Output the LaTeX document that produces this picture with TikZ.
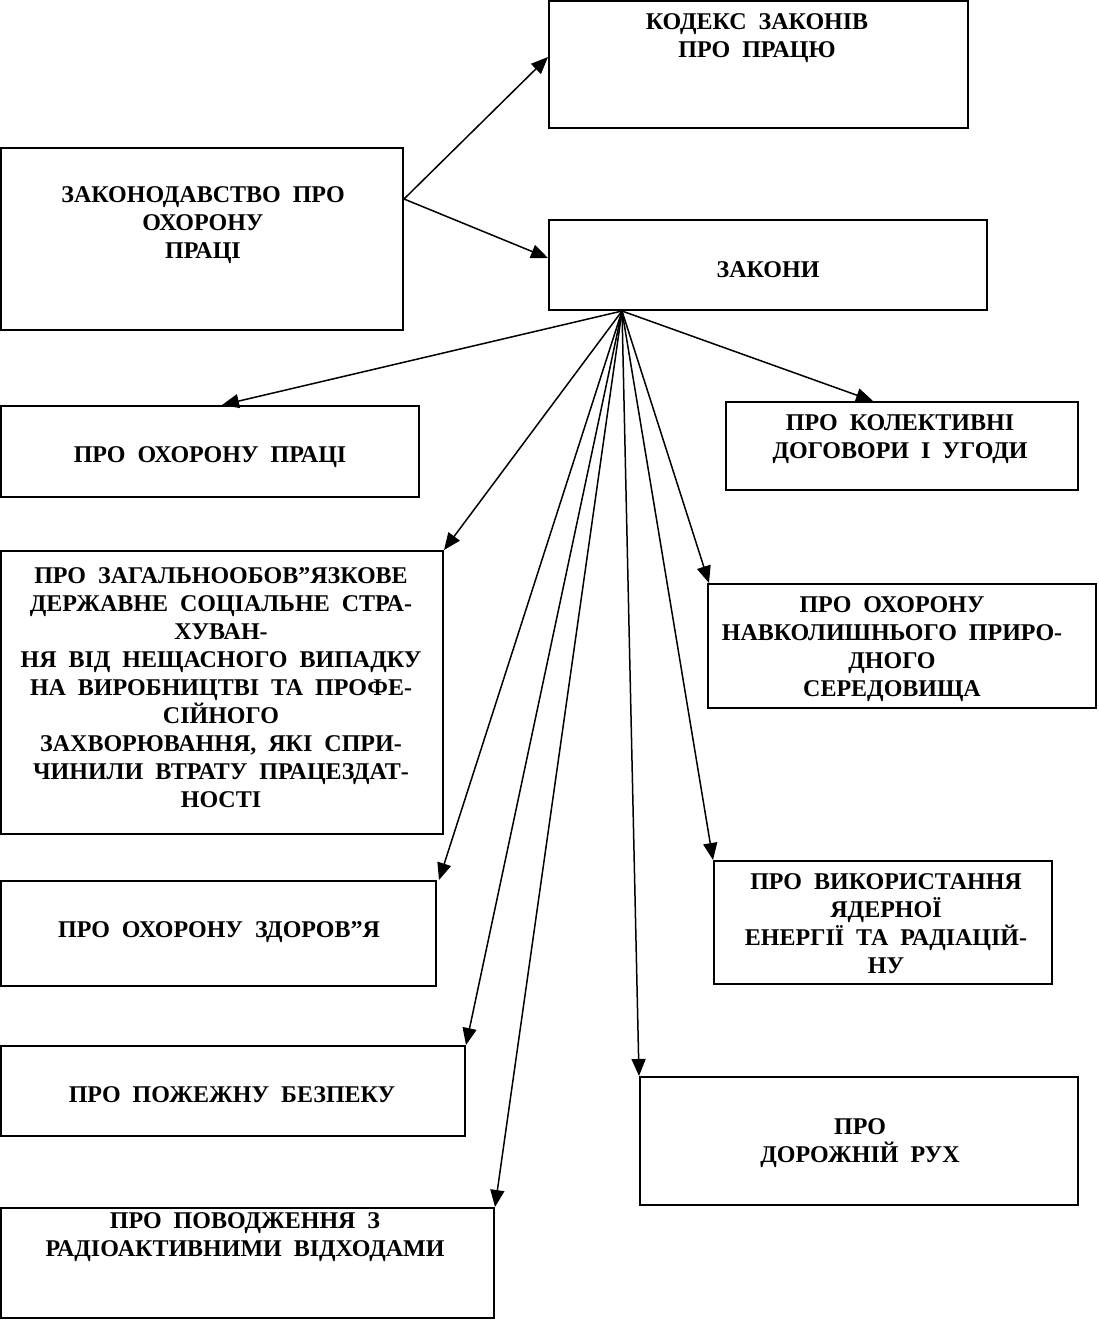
\documentclass[tikz,border=0pt]{standalone}
\usepackage{fontspec}
\setmainfont{Liberation Serif}
\usetikzlibrary{arrows.meta, fit, positioning}
\newcommand{\lawfont}{\bfseries\fontsize{24}{28}\selectfont\setlength{\spaceskip}{0.5em plus 0.1em}}
\tikzset{
    box/.style = {
      draw, line width=2pt, inner sep=0,
    },
    law text/.style = {
      align=center, inner sep=0, font=\lawfont,
    },
    link/.style = {line width=1.5pt, arrows={-Triangle[length=17pt, width=14pt]}},
}
\newcommand{\lawbox}[4]{%
  %% Draw one box of the scheme:
  %% Arguments:
  %%    1. Name
  %%    2. Its two corners
  %%    3. Where its text sits
  %%    4. The text
  \node [box, fit={#2}] (#1) {};
  \node [law text] (#1_text) at (#3) {#4};
}

\begin{document}
\begin{tikzpicture}[x=1pt, y=-1pt]
    \useasboundingbox (0,0) rectangle (1098,1320);

    %% The source and the two groups of acts
    \lawbox{legislation}{(1,148) (403,330)}{203,225}{ЗАКОНОДАВСТВО ПРО\\ОХОРОНУ\\ПРАЦІ}
    \lawbox{code}{(549,1) (968,128)}{757,38}{КОДЕКС ЗАКОНІВ\\ПРО ПРАЦЮ}
    \lawbox{laws}{(549,220) (987,310)}{768,270}{ЗАКОНИ}

    %% The laws, left column
    \lawbox{labour}{(1,406) (419,497)}{210,457}{ПРО ОХОРОНУ ПРАЦІ}
    \lawbox{insurance}{(1,551) (443,834)}{221,688}{ПРО ЗАГАЛЬНООБОВ”ЯЗКОВЕ\\ДЕРЖАВНЕ СОЦІАЛЬНЕ СТРА-\\ХУВАН-\\НЯ ВІД НЕЩАСНОГО ВИПАДКУ\\НА ВИРОБНИЦТВІ ТА ПРОФЕ-\\СІЙНОГО\\ЗАХВОРЮВАННЯ, ЯКІ СПРИ-\\ЧИНИЛИ ВТРАТУ ПРАЦЕЗДАТ-\\НОСТІ}
    \lawbox{health}{(1,881) (436,986)}{219,932}{ПРО ОХОРОНУ ЗДОРОВ”Я}
    \lawbox{fire}{(1,1046) (465,1136)}{232,1095}{ПРО ПОЖЕЖНУ БЕЗПЕКУ}
    \lawbox{waste}{(1,1208) (494,1318)}{245,1237}{ПРО ПОВОДЖЕННЯ З\\РАДІОАКТИВНИМИ ВІДХОДАМИ}

    %% The laws, right column
    \lawbox{agreements}{(726,402) (1078,490)}{900,439}{ПРО КОЛЕКТИВНІ\\ДОГОВОРИ І УГОДИ}
    \lawbox{nature}{(708,584) (1096,708)}{892,649}{ПРО ОХОРОНУ\\НАВКОЛИШНЬОГО ПРИРО-\\ДНОГО\\СЕРЕДОВИЩА}
    \lawbox{nuclear}{(714,861) (1052,984)}{886,924}{ПРО ВИКОРИСТАННЯ\\ЯДЕРНОЇ\\ЕНЕРГІЇ ТА РАДІАЦІЙ-\\НУ}
    \lawbox{traffic}{(640,1077) (1078,1205)}{860,1143}{ПРО\\ДОРОЖНІЙ РУХ}

    %% Legislation splits into the code and the laws
    \coordinate (split) at ([yshift=40pt] legislation.east);
    \draw [link] (split) -- ([yshift=7.5pt] code.west);
    \draw [link] (split) -- ([yshift=7pt] laws.west);

    %% Every law hangs from one point under ЗАКОНИ
    \coordinate (hub) at ([xshift=-146pt] laws.south);
    \foreach \target/\shift in {labour.north/12pt, agreements.north/-29pt,
                                insurance.north east/0pt, nature.north west/2pt,
                                health.north east/2pt, nuclear.north west/0pt,
                                fire.north east/0pt, traffic.north west/0pt,
                                waste.north east/0pt}{%
      \draw [link] (hub) -- ([xshift=\shift] \target);
    }
  \end{tikzpicture}
\end{document}
